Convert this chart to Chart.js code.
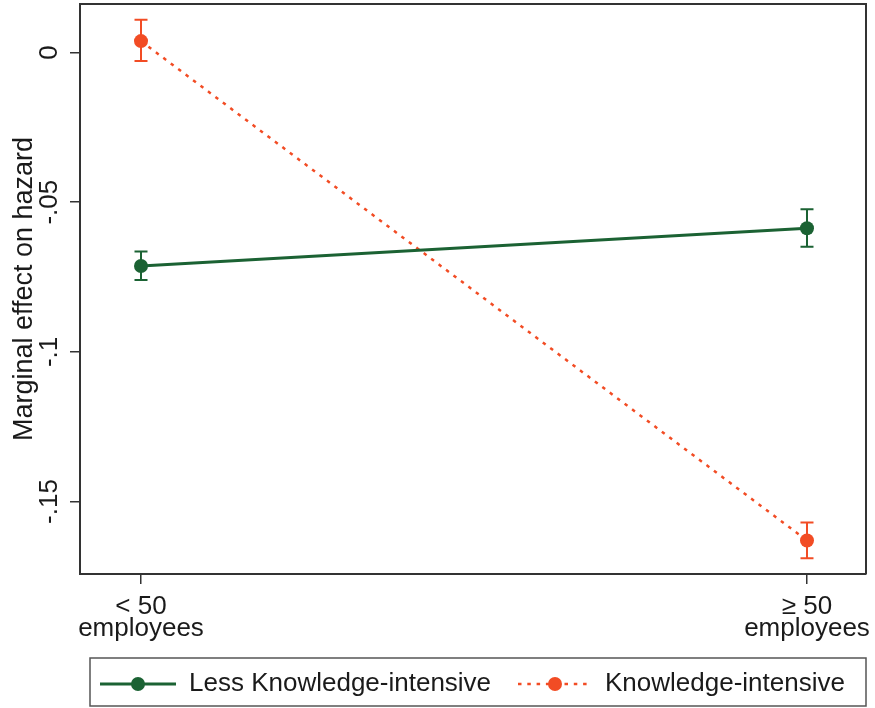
<!DOCTYPE html>
<html>
<head>
<meta charset="utf-8">
<script src="https://cdn.jsdelivr.net/npm/chart.js@4.4.1/dist/chart.umd.min.js"></script>
<style>
  html, body { margin: 0; padding: 0; background: #ffffff; }
  #wrap { width: 875px; height: 708px; position: relative; }
</style>
</head>
<body>
<div id="wrap"><canvas id="chart" width="875" height="708"></canvas></div>
<script>
// Firm size groups (x positions 0 and 1)
const categories = [['< 50', 'employees'], ['\u2265 50', 'employees']];
const seriesNames = ['Less Knowledge-intensive', 'Knowledge-intensive'];

// Marginal effects with confidence bounds
const lessKI      = [-0.0713, -0.0587];
const lessKILow   = [-0.0760, -0.0649];
const lessKIHigh  = [-0.0665, -0.0524];

const ki          = [0.0038, -0.1630];
const kiLow       = [-0.0028, -0.1689];
const kiHigh      = [0.0109, -0.1570];

const yTicks      = [0, -0.05, -0.1, -0.15];
const yTickLabels = ['0', '-.05', '-.1', '-.15'];
const yTitle      = 'Marginal effect on hazard';

const GREEN  = '#1b6233';
const ORANGE = '#f24c24';
const INK    = '#1a1a1a';
const AXIS   = '#333333';
const FONT   = '"Liberation Sans", Arial, Helvetica, sans-serif';
const FSIZE  = 26;

const toPoints = vals => vals.map((v, i) => ({ x: i, y: v }));

const series = [
  { name: seriesNames[0], vals: lessKI, lo: lessKILow, hi: lessKIHigh, color: GREEN, dash: [], width: 3 },
  { name: seriesNames[1], vals: ki, lo: kiLow, hi: kiHigh, color: ORANGE, dash: [3.5, 5.8], width: 2.5 }
];

// Confidence-interval whiskers, y tick labels, axis title, frame and legend box
const extras = {
  id: 'extras',
  beforeDatasetsDraw(chart) {
    const ctx = chart.ctx;
    const xs = chart.scales.x, ys = chart.scales.y;
    ctx.save();
    series.forEach(s => {
      ctx.strokeStyle = s.color;
      ctx.lineWidth = 2;
      s.vals.forEach((v, i) => {
        const px = xs.getPixelForValue(i);
        const pLo = ys.getPixelForValue(s.lo[i]);
        const pHi = ys.getPixelForValue(s.hi[i]);
        ctx.beginPath();
        ctx.moveTo(px, pLo); ctx.lineTo(px, pHi);
        ctx.moveTo(px - 6.5, pLo); ctx.lineTo(px + 6.5, pLo);
        ctx.moveTo(px - 6.5, pHi); ctx.lineTo(px + 6.5, pHi);
        ctx.stroke();
      });
    });
    ctx.restore();
  },
  afterDraw(chart) {
    const ctx = chart.ctx;
    const a = chart.chartArea;
    const ys = chart.scales.y;
    ctx.save();
    // frame top and right
    ctx.strokeStyle = AXIS;
    ctx.lineWidth = 2;
    ctx.beginPath();
    ctx.moveTo(a.left, a.top); ctx.lineTo(a.right, a.top); ctx.lineTo(a.right, a.bottom);
    ctx.stroke();

    // rotated y tick labels
    ctx.fillStyle = INK;
    ctx.font = FSIZE + 'px ' + FONT;
    ctx.textAlign = 'center';
    ctx.textBaseline = 'alphabetic';
    yTicks.forEach((t, i) => {
      const py = ys.getPixelForValue(t);
      ctx.save();
      ctx.translate(57, py);
      ctx.rotate(-Math.PI / 2);
      ctx.fillText(yTickLabels[i], 0, 0);
      ctx.restore();
    });

    // y axis title
    ctx.save();
    ctx.font = '27px ' + FONT;
    ctx.translate(32, (a.top + a.bottom) / 2);
    ctx.rotate(-Math.PI / 2);
    ctx.fillText(yTitle, 0, 0);
    ctx.restore();

    // legend
    const bx = 90, by = 658, bw = 776, bh = 48;
    ctx.strokeStyle = '#555555';
    ctx.lineWidth = 1.5;
    ctx.strokeRect(bx, by, bw, bh);
    const cy = by + bh / 2 + 2;
    const items = [
      { s: series[0], x0: 100, x1: 176, tx: 189 },
      { s: series[1], x0: 518, x1: 592, tx: 605 }
    ];
    items.forEach(it => {
      ctx.strokeStyle = it.s.color;
      ctx.lineWidth = it.s.width;
      ctx.setLineDash(it.s.dash);
      ctx.beginPath();
      ctx.moveTo(it.x0, cy); ctx.lineTo(it.x1, cy);
      ctx.stroke();
      ctx.setLineDash([]);
      ctx.fillStyle = it.s.color;
      ctx.beginPath();
      ctx.arc((it.x0 + it.x1) / 2, cy, 7, 0, Math.PI * 2);
      ctx.fill();
      ctx.fillStyle = INK;
      ctx.font = FSIZE + 'px ' + FONT;
      ctx.textAlign = 'left';
      ctx.textBaseline = 'middle';
      ctx.fillText(it.s.name, it.tx, cy);
    });
    ctx.restore();
  }
};

new Chart(document.getElementById('chart'), {
  type: 'line',
  data: {
    datasets: series.map(s => ({
      label: s.name,
      data: toPoints(s.vals),
      borderColor: s.color,
      backgroundColor: s.color,
      borderWidth: s.width,
      borderDash: s.dash,
      pointRadius: 7,
      pointHoverRadius: 7,
      pointBorderWidth: 0,
      pointBackgroundColor: s.color,
      tension: 0
    }))
  },
  options: {
    responsive: false,
    animation: false,
    devicePixelRatio: 1,
    layout: { autoPadding: false, padding: { top: 4, right: 9, bottom: 50, left: 0 } },
    plugins: { legend: { display: false }, tooltip: { enabled: false } },
    scales: {
      x: {
        type: 'linear',
        min: -0.0916,
        max: 1.0886,
        afterBuildTicks: sc => { sc.ticks = categories.map((c, i) => ({ value: i })); },
        afterFit: sc => { sc.height = 84; sc.paddingLeft = 0; sc.paddingRight = 0; },
        ticks: {
          callback: v => categories[v],
          color: INK,
          font: { family: FONT, size: FSIZE, lineHeight: 0.88 },
          padding: 11,
          maxRotation: 0,
          autoSkip: false
        },
        grid: { display: true, drawOnChartArea: false, drawTicks: true, tickLength: 10, color: AXIS, lineWidth: 1.5 },
        border: { display: true, color: AXIS, width: 2 }
      },
      y: {
        type: 'linear',
        min: -0.1742,
        max: 0.0162,
        afterBuildTicks: sc => { sc.ticks = yTicks.map(v => ({ value: v })); },
        afterFit: sc => { sc.width = 80; },
        ticks: { display: false },
        grid: { display: true, drawOnChartArea: false, drawTicks: true, tickLength: 10, color: AXIS, lineWidth: 1.5 },
        border: { display: true, color: AXIS, width: 2 }
      }
    }
  },
  plugins: [extras]
});
</script>
</body>
</html>
